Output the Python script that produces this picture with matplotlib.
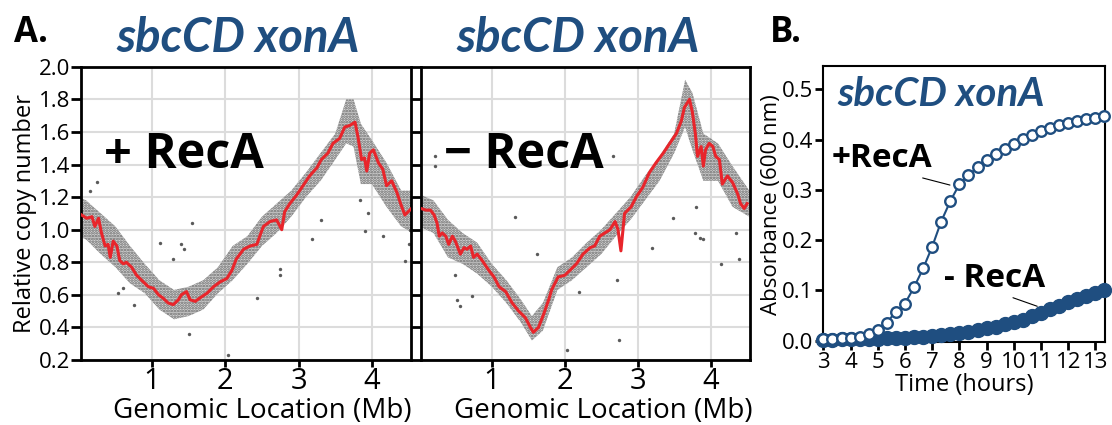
import numpy as np
import matplotlib.pyplot as plt

plt.rcParams.update({'font.family': ['Open Sans', 'DejaVu Sans'],
                     'hatch.linewidth': 1.3,
                     'axes.linewidth': 2.0,
                     'xtick.major.width': 2.0,
                     'ytick.major.width': 2.0,
                     'xtick.direction': 'out',
                     'ytick.direction': 'out'})

blue = '#1f4e80'
red = '#e8252b'
dots = '#5a5a5a'

# ---- panel A : + RecA (running mean, cloud envelope, stray points) ----
plus_x = [0.04, 0.11, 0.18, 0.22, 0.27, 0.31, 0.36, 0.40, 0.43, 0.47, 0.52, 0.56, 0.61,
          0.65, 0.72, 0.79, 0.88, 0.95, 1.02, 1.09, 1.15, 1.22, 1.29, 1.36, 1.40, 1.47,
          1.52, 1.59, 1.65, 1.75, 1.84, 1.93, 2.02, 2.09, 2.15, 2.25, 2.34, 2.43, 2.47,
          2.52, 2.61, 2.70, 2.77, 2.81, 2.88, 2.97, 3.06, 3.15, 3.25, 3.31, 3.40, 3.47,
          3.56, 3.63, 3.70, 3.77, 3.81, 3.86, 3.90, 3.93, 3.97, 4.02, 4.09, 4.15, 4.20,
          4.27, 4.34, 4.40, 4.45, 4.54]
plus_cn = [1.09, 1.07, 1.08, 1.02, 1.07, 0.98, 0.90, 0.91, 0.83, 0.93, 0.90, 0.81, 0.79,
           0.80, 0.77, 0.72, 0.68, 0.65, 0.64, 0.60, 0.58, 0.55, 0.54, 0.57, 0.60, 0.62,
           0.57, 0.56, 0.58, 0.61, 0.65, 0.68, 0.70, 0.75, 0.82, 0.88, 0.90, 0.91, 0.96,
           1.02, 1.05, 1.06, 1.00, 1.11, 1.16, 1.21, 1.27, 1.33, 1.38, 1.43, 1.47, 1.53,
           1.56, 1.63, 1.64, 1.66, 1.57, 1.43, 1.44, 1.36, 1.47, 1.49, 1.41, 1.37, 1.27,
           1.30, 1.23, 1.15, 1.09, 1.13]
plus_band_x = [0.0, 0.1, 0.3, 0.5, 0.7, 0.9, 1.1, 1.3, 1.5, 1.7, 1.9, 2.1, 2.3, 2.5, 2.7,
               2.9, 3.1, 3.3, 3.5, 3.65, 3.75, 3.85, 4.0, 4.2, 4.4, 4.56]
plus_band_lo = [0.96, 0.94, 0.85, 0.77, 0.67, 0.61, 0.51, 0.45, 0.47, 0.51, 0.61, 0.69,
                0.79, 0.90, 0.98, 1.08, 1.20, 1.30, 1.43, 1.53, 1.51, 1.28, 1.28, 1.14,
                1.02, 0.98]
plus_band_hi = [1.20, 1.18, 1.10, 1.02, 0.90, 0.79, 0.69, 0.63, 0.65, 0.69, 0.77, 0.90,
                0.96, 1.08, 1.16, 1.24, 1.35, 1.47, 1.59, 1.80, 1.80, 1.65, 1.55, 1.41,
                1.24, 1.24]
plus_out_x = [0.25, 0.15, 1.54, 1.29, 1.40, 1.43, 1.11, 1.50, 2.04, 0.75, 0.54, 2.43,
              2.74, 3.18, 3.31, 3.90, 4.15, 4.50, 4.45, 3.95, 3.84, 4.52, 2.75, 0.60]
plus_out_y = [1.29, 1.24, 1.04, 0.82, 0.91, 0.88, 0.92, 0.36, 0.23, 0.54, 0.61, 0.58,
              0.72, 0.94, 1.06, 0.99, 0.96, 0.91, 0.81, 1.10, 1.18, 1.00, 0.76, 0.64]

# ---- panel A : - RecA ----
minus_x = [0.03, 0.10, 0.16, 0.21, 0.25, 0.28, 0.32, 0.37, 0.41, 0.46, 0.50, 0.57, 0.62,
           0.66, 0.71, 0.75, 0.80, 0.87, 0.96, 1.03, 1.10, 1.19, 1.28, 1.37, 1.46, 1.53,
           1.57, 1.64, 1.71, 1.78, 1.82, 1.91, 2.00, 2.07, 2.16, 2.25, 2.35, 2.41, 2.48,
           2.55, 2.62, 2.69, 2.73, 2.77, 2.82, 2.91, 2.98, 3.07, 3.16, 3.25, 3.35, 3.44,
           3.53, 3.60, 3.64, 3.71, 3.75, 3.79, 3.82, 3.87, 3.90, 3.93, 3.98, 4.03, 4.07,
           4.12, 4.16, 4.23, 4.30, 4.37, 4.41, 4.46, 4.50]
minus_cn = [1.13, 1.12, 1.12, 1.09, 1.04, 0.96, 0.98, 0.96, 0.91, 0.96, 0.93, 0.85, 0.89,
            0.88, 0.90, 0.83, 0.85, 0.81, 0.75, 0.71, 0.65, 0.62, 0.55, 0.50, 0.46, 0.40,
            0.37, 0.40, 0.48, 0.57, 0.63, 0.71, 0.72, 0.75, 0.79, 0.85, 0.89, 0.90, 0.96,
            0.98, 1.00, 1.05, 1.00, 0.87, 1.10, 1.14, 1.20, 1.26, 1.35, 1.41, 1.47, 1.53,
            1.59, 1.67, 1.75, 1.80, 1.72, 1.59, 1.45, 1.51, 1.39, 1.49, 1.53, 1.51, 1.45,
            1.43, 1.28, 1.33, 1.29, 1.22, 1.16, 1.13, 1.16]
minus_band_x = [0.0, 0.2, 0.4, 0.6, 0.8, 1.0, 1.2, 1.4, 1.55, 1.7, 1.9, 2.1, 2.3, 2.5,
                2.7, 2.9, 3.1, 3.3, 3.5, 3.65, 3.75, 3.9, 4.1, 4.3, 4.53]
minus_band_lo = [1.02, 0.98, 0.83, 0.79, 0.73, 0.65, 0.55, 0.43, 0.32, 0.38, 0.63, 0.69,
                 0.77, 0.85, 0.96, 1.06, 1.18, 1.30, 1.47, 1.63, 1.49, 1.30, 1.30, 1.14,
                 1.08]
minus_band_hi = [1.22, 1.18, 1.06, 0.98, 0.92, 0.79, 0.69, 0.57, 0.47, 0.55, 0.77, 0.83,
                 0.92, 1.00, 1.10, 1.20, 1.33, 1.45, 1.59, 1.92, 1.84, 1.59, 1.53, 1.39,
                 1.24]
minus_out_x = [0.22, 0.22, 0.57, 0.53, 0.73, 1.32, 1.62, 2.03, 2.75, 2.66, 2.71, 3.48,
               3.19, 3.78, 3.89, 4.14, 4.39, 4.35, 3.80, 3.85, 0.50, 2.20]
minus_out_y = [1.45, 1.39, 0.53, 0.57, 0.59, 1.08, 0.85, 0.26, 0.32, 1.45, 0.69, 1.07,
               0.89, 0.98, 0.94, 0.79, 0.82, 0.98, 1.14, 0.95, 0.72, 0.62]

genome_ticks = [1, 2, 3, 4]
cn_ticks = [0.2, 0.4, 0.6, 0.8, 1.0, 1.2, 1.4, 1.6, 1.8, 2.0]

# ---- panel B : growth curves ----
time_h = [3.00, 3.33, 3.67, 4.00, 4.33, 4.67, 5.00, 5.33, 5.67, 6.00, 6.33, 6.67, 7.00,
          7.33, 7.67, 8.00, 8.33, 8.67, 9.00, 9.33, 9.67, 10.00, 10.33, 10.67, 11.00,
          11.33, 11.67, 12.00, 12.33, 12.67, 13.00, 13.33]
od_plus = [0.004, 0.004, 0.005, 0.006, 0.008, 0.014, 0.021, 0.036, 0.058, 0.074, 0.106,
           0.144, 0.187, 0.237, 0.278, 0.311, 0.329, 0.345, 0.359, 0.371, 0.382, 0.392,
           0.402, 0.409, 0.416, 0.422, 0.429, 0.432, 0.437, 0.440, 0.443, 0.447]
od_minus = [0.002, 0.002, 0.003, 0.003, 0.003, 0.004, 0.004, 0.005, 0.005, 0.006, 0.007,
            0.008, 0.010, 0.011, 0.013, 0.015, 0.018, 0.021, 0.025, 0.028, 0.033, 0.037,
            0.042, 0.049, 0.056, 0.063, 0.070, 0.077, 0.083, 0.089, 0.095, 0.101]

title_font = ['Lato', 'Open Sans', 'DejaVu Sans']

fig = plt.figure(figsize=(11.12, 4.25), dpi=100)
ax1 = fig.add_axes([0.0728, 0.1529, 0.2972, 0.690])
ax2 = fig.add_axes([0.3786, 0.1529, 0.2959, 0.690])
ax3 = fig.add_axes([0.7404, 0.1946, 0.2533, 0.650])


def copy_panel(ax, bx, lo, hi, ox, oy, lx, ly, label, show_y):
    ax.grid(True, color='#dcdcdc', lw=1.5, zorder=0)
    ax.set_axisbelow(True)
    ax.fill_between(bx, lo, hi, facecolor='#cfcfcf', edgecolor='#555555', hatch='......',
                    linewidth=0, alpha=0.85, zorder=1)
    ax.scatter(ox, oy, s=6, color=dots, lw=0, zorder=2)
    ax.plot(lx, ly, color=red, lw=2.2, zorder=3)
    ax.set_xlim(0.03, 4.54)
    ax.set_ylim(0.2, 2.0)
    ax.set_xticks(genome_ticks)
    ax.set_yticks(cn_ticks)
    ax.tick_params(axis='x', length=5, labelsize=21, pad=0)
    ax.tick_params(axis='y', length=7, labelsize=16, pad=1)
    if not show_y:
        ax.set_yticklabels([])
    ax.set_xlabel('Genomic Location (Mb)', fontsize=20)
    ax.text(0.07, 0.655, label, transform=ax.transAxes, fontsize=35, fontweight='bold',
            va='baseline')


copy_panel(ax1, plus_band_x, plus_band_lo, plus_band_hi, plus_out_x, plus_out_y,
           plus_x, plus_cn, '+ RecA', True)
copy_panel(ax2, minus_band_x, minus_band_lo, minus_band_hi, minus_out_x, minus_out_y,
           minus_x, minus_cn, '\u2212 RecA', False)
ax1.xaxis.set_label_coords(0.55, -0.125)
ax2.xaxis.set_label_coords(0.553, -0.125)
ax1.set_ylabel('Relative copy number', fontsize=17, labelpad=1)

for ax in (ax1, ax2):
    x0 = ax.get_position().x0 + ax.get_position().width / 2
    fig.text(x0 - 0.007, 0.877, 'sbcCD xonA', ha='center', va='baseline', fontsize=34,
             fontweight='bold', style='italic', color=blue, family=title_font)

fig.text(0.013, 0.90, 'A.', fontsize=25, fontweight='bold', va='baseline')
fig.text(0.692, 0.90, 'B.', fontsize=25, fontweight='bold', va='baseline')

# growth curve panel
ax3.plot(time_h, od_minus, '-o', color=blue, ms=10, mfc=blue, mec=blue, lw=1.5,
         clip_on=False, zorder=3)
ax3.plot(time_h, od_plus, '-o', color=blue, ms=7.6, mfc='white', mec=blue, mew=1.7,
         lw=1.5, clip_on=False, zorder=4)
ax3.set_xlim(3, 13.35)
ax3.set_ylim(-0.003, 0.546)
ax3.set_xticks(range(3, 14))
ax3.set_yticks([0.0, 0.1, 0.2, 0.3, 0.4, 0.5])
ax3.set_yticklabels(['0.0', '0.1', '0.2', '0.3', '0.4', '0.5'])
for sp in ax3.spines.values():
    sp.set_linewidth(1.5)
ax3.tick_params(length=6, width=2, pad=1, labelsize=16)
ax3.set_xlabel('Time (hours)', fontsize=17, labelpad=0)
ax3.set_ylabel('Absorbance (600 nm)', fontsize=16, labelpad=0)
ax3.text(0.05, 0.855, 'sbcCD xonA', transform=ax3.transAxes, fontsize=29,
         fontweight='bold', style='italic', color=blue, family=title_font)
ax3.annotate('+RecA', xy=(7.9, 0.306), xytext=(3.3, 0.345), fontsize=24, fontweight='bold',
             arrowprops=dict(arrowstyle='-', lw=0.8, color='black', shrinkA=0, shrinkB=5,
                             relpos=(0.8, 0.0)))
ax3.annotate('- RecA', xy=(11.1, 0.064), xytext=(7.45, 0.107), fontsize=24, fontweight='bold',
             arrowprops=dict(arrowstyle='-', lw=0.8, color='black', shrinkA=0, shrinkB=5,
                             relpos=(0.6, 0.0)))

fig.savefig('out.png', dpi=100)
